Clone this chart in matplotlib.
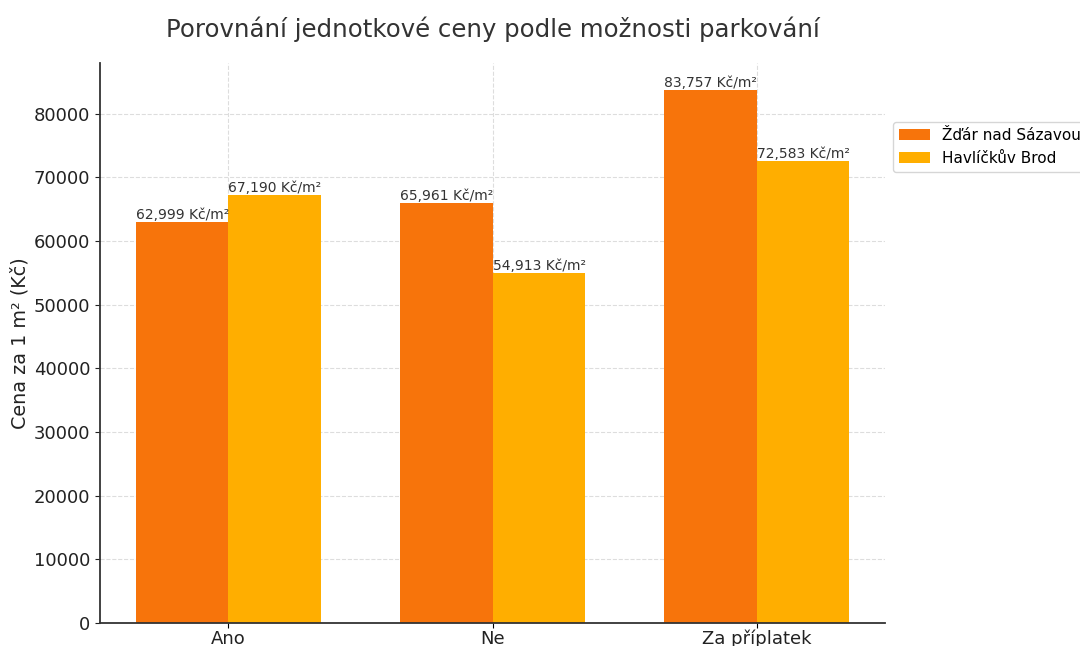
import matplotlib
matplotlib.use("Agg")
import matplotlib.pyplot as plt
import numpy as np

categories = ["Ano", "Ne", "Za příplatek"]
series_names = ["Žďár nad Sázavou", "Havlíčkův Brod"]
zdar_values = [62999, 65961, 83757]
havl_values = [67190, 54913, 72583]
colors = ["#F7740B", "#FFAE00"]

plt.rcParams['font.family'] = ['DejaVu Sans']
fig = plt.figure(figsize=(10.8, 6.46), dpi=100)
ax = fig.add_axes([100/1080, 1 - 623/646, 785/1080, 560/646])

x = np.arange(len(categories))
w = 0.35
b1 = ax.bar(x - w/2, zdar_values, w, color=colors[0], label=series_names[0], zorder=2)
b2 = ax.bar(x + w/2, havl_values, w, color=colors[1], label=series_names[1], zorder=2)

for bars, vals in [(b1, zdar_values), (b2, havl_values)]:
    for rect, v in zip(bars, vals):
        ax.text(rect.get_x(), rect.get_height(), f"{v:,} Kč/m²", ha='left', va='bottom',
                fontsize=10, color='#333333')

ax.set_xticks(x)
ax.set_xticklabels(categories, fontsize=13, color='#222222')
ax.tick_params(axis='x', pad=1.5)
ax.tick_params(axis='y', labelsize=13, colors='#222222')
ax.set_ylabel("Cena za 1 m² (Kč)", fontsize=13.8, color='#222222', labelpad=3)
ax.set_title("Porovnání jednotkové ceny podle možnosti parkování", fontsize=17.6, color='#333333', pad=19)
ax.grid(True, linestyle='--', color='#dddddd', linewidth=0.8, zorder=0)
ax.set_axisbelow(True)
for s in ['top', 'right']:
    ax.spines[s].set_visible(False)
for s in ['left', 'bottom']:
    ax.spines[s].set_color('#333333')
    ax.spines[s].set_linewidth(1.3)

ax.legend(loc='upper left', bbox_to_anchor=(1.01, 0.895), fontsize=11, frameon=True,
          edgecolor='#cccccc', borderaxespad=0)

fig.savefig("out.png", dpi=100)
